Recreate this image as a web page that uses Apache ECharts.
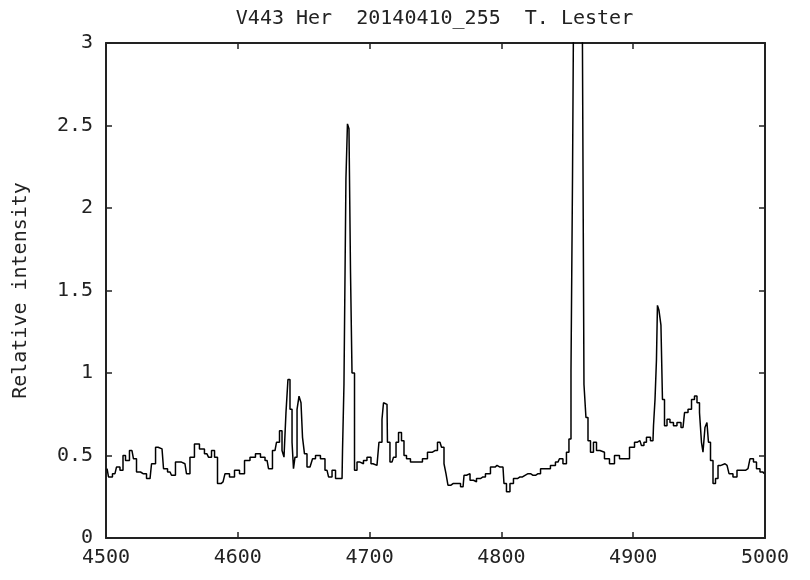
<!DOCTYPE html>
<html>
<head>
<meta charset="utf-8">
<script src="https://cdn.jsdelivr.net/npm/echarts@6/dist/echarts.min.js"></script>
<style>html,body{margin:0;padding:0;background:#fff}#c{width:810px;height:580px}</style>
</head>
<body>
<div id="c"></div>
<script>
const titleText = 'V443 Her  20140410_255  T. Lester';
const yName = 'Relative intensity';
const xTicks = [4500, 4600, 4700, 4800, 4900, 5000];
const yTicks = [0, 0.5, 1, 1.5, 2, 2.5, 3];

const wavelength = [
4500.8,4503.0,4506.8,4509.1,4512.1,4513.7,4515.9,4519.7,4522.0,4524.3,
4528.1,4533.4,4535.7,4539.5,4542.5,4544.8,4548.6,4550.8,4554.6,4559.9,
4562.2,4565.2,4569.0,4572.8,4576.6,4578.9,4581.2,4583.5,4585.7,4588.8,
4591.8,4595.6,4599.4,4603.2,4607.0,4611.5,4615.3,4619.1,4622.2,4624.4,
4628.2,4630.5,4632.8,4634.3,4635.8,4637.3,4638.8,4640.4,4641.9,4642.6,
4644.2,4645.7,4647.2,4648.7,4649.5,4651.7,4653.3,4656.3,4657.1,4660.8,
4664.6,4667.7,4670.0,4673.0,4675.3,4679.1,4679.8,4681.3,4682.8,4683.6,
4685.1,4685.9,4687.4,4689.7,4691.2,4694.2,4696.5,4699.5,4702.6,4705.6,
4708.6,4710.2,4710.9,4713.2,4713.9,4717.0,4719.3,4720.8,4723.1,4725.3,
4726.9,4729.1,4732.9,4738.2,4742.0,4745.8,4749.6,4753.4,4755.7,4757.2,
4758.7,4760.2,4763.3,4767.1,4770.9,4772.4,4774.7,4777.7,4780.0,4782.2,
4786.0,4789.8,4793.6,4796.7,4798.9,4801.2,4802.7,4805.0,4808.0,4810.3,
4814.1,4817.9,4820.2,4824.0,4827.8,4831.6,4835.3,4839.1,4842.9,4845.2,
4848.2,4850.5,4852.0,4853.6,4854.3,4855.8,4858.1,4860.4,4861.9,4863.4,
4864.9,4866.5,4868.7,4871.0,4873.3,4876.3,4880.1,4883.9,4887.7,4891.5,
4895.3,4899.1,4902.9,4905.1,4907.4,4908.9,4911.2,4915.0,4915.8,4917.3,
4918.0,4918.8,4920.3,4921.8,4922.6,4924.9,4926.4,4929.4,4931.7,4934.7,
4937.8,4940.1,4943.1,4945.4,4947.6,4949.2,4951.4,4952.2,4953.7,4955.2,
4956.7,4957.5,4959.8,4961.3,4963.6,4965.1,4968.1,4971.2,4974.2,4977.2,
4980.3,4983.3,4987.1,4990.1,4992.4,4994.7,4997.7,4999.2
];
const intensity = [
0.42,0.37,0.39,0.43,0.41,0.50,0.47,0.53,0.48,0.40,
0.39,0.36,0.45,0.55,0.54,0.42,0.40,0.38,0.46,0.45,
0.39,0.49,0.57,0.54,0.51,0.49,0.53,0.49,0.33,0.34,
0.39,0.37,0.41,0.39,0.47,0.49,0.51,0.49,0.47,0.42,
0.53,0.58,0.65,0.53,0.49,0.76,0.96,0.78,0.58,0.42,
0.49,0.78,0.86,0.82,0.61,0.51,0.43,0.42,0.48,0.50,
0.48,0.41,0.37,0.41,0.36,0.36,0.53,0.93,2.18,2.51,
2.48,1.62,1.00,0.41,0.46,0.45,0.47,0.49,0.45,0.44,
0.58,0.72,0.82,0.81,0.58,0.46,0.49,0.58,0.64,0.59,
0.50,0.48,0.46,0.46,0.48,0.52,0.53,0.58,0.55,0.45,
0.39,0.32,0.33,0.33,0.31,0.38,0.39,0.35,0.34,0.36,
0.37,0.39,0.43,0.44,0.43,0.43,0.33,0.28,0.33,0.36,
0.37,0.38,0.39,0.38,0.39,0.42,0.42,0.44,0.46,0.48,
0.45,0.52,0.60,1.02,2.18,3.60,4.50,4.50,3.60,0.93,
0.73,0.59,0.52,0.58,0.53,0.52,0.48,0.45,0.50,0.48,
0.48,0.55,0.58,0.59,0.56,0.58,0.61,0.59,0.68,0.84,
1.08,1.41,1.38,1.29,0.84,0.68,0.72,0.70,0.68,0.70,
0.67,0.76,0.78,0.84,0.86,0.82,0.76,0.58,0.52,0.67,
0.70,0.58,0.47,0.33,0.36,0.44,0.45,0.44,0.39,0.37,
0.41,0.41,0.42,0.48,0.46,0.42,0.40,0.39
];

const FONT = 'DejaVu Sans Mono';
const FS = 20;
const chart = echarts.init(document.getElementById('c'), null, {renderer: 'canvas'});
const axisLineStyle = {color: '#222', width: 2};
const tickStyle = {color: '#222', width: 1.5};
const xMin = xTicks[0], xMax = xTicks[xTicks.length - 1], xInt = xTicks[1] - xTicks[0];
const yMin = yTicks[0], yMax = yTicks[yTicks.length - 1], yInt = yTicks[1] - yTicks[0];

chart.setOption({
  animation: false,
  backgroundColor: '#fff',
  grid: {left: 106, right: 45, top: 43, bottom: 42, containLabel: false, outerBoundsMode: 'none'},
  graphic: [{
    type: 'text', x: 434.5, y: 19,
    style: {text: titleText, font: FS + 'px "' + FONT + '"', fill: '#222', align: 'center', verticalAlign: 'middle'}
  }],
  xAxis: [{
    type: 'value', min: xMin, max: xMax, interval: xInt, position: 'bottom',
    axisLine: {show: true, onZero: false, lineStyle: axisLineStyle},
    axisTick: {show: true, inside: true, length: 6, lineStyle: tickStyle},
    axisLabel: {show: true, margin: 10, color: '#222', fontFamily: FONT, fontSize: FS,
      formatter: v => String(v)},
    splitLine: {show: false}
  }, {
    type: 'value', min: xMin, max: xMax, interval: xInt, position: 'top',
    axisLine: {show: true, onZero: false, lineStyle: axisLineStyle},
    axisTick: {show: true, inside: true, length: 6, lineStyle: tickStyle},
    axisLabel: {show: false}, splitLine: {show: false}
  }],
  yAxis: [{
    type: 'value', min: yMin, max: yMax, interval: yInt, position: 'left',
    name: yName, nameLocation: 'middle', nameRotate: 90, nameGap: 75,
    nameTextStyle: {color: '#222', fontFamily: FONT, fontSize: FS},
    axisLine: {show: true, onZero: false, lineStyle: axisLineStyle},
    axisTick: {show: true, inside: true, length: 6, lineStyle: tickStyle},
    axisLabel: {show: true, margin: 13, color: '#222', fontFamily: FONT, fontSize: FS,
      formatter: v => String(v)},
    splitLine: {show: false}
  }, {
    type: 'value', min: yMin, max: yMax, interval: yInt, position: 'right',
    axisLine: {show: true, onZero: false, lineStyle: axisLineStyle},
    axisTick: {show: true, inside: true, length: 6, lineStyle: tickStyle},
    axisLabel: {show: false}, splitLine: {show: false}
  }],
  series: [{
    type: 'line', xAxisIndex: 0, yAxisIndex: 0,
    data: wavelength.map((w, i) => [w, intensity[i]]),
    step: 'middle', showSymbol: false, symbol: 'none', clip: true,
    lineStyle: {color: '#000', width: 1.5}
  }]
});
</script>
</body>
</html>
